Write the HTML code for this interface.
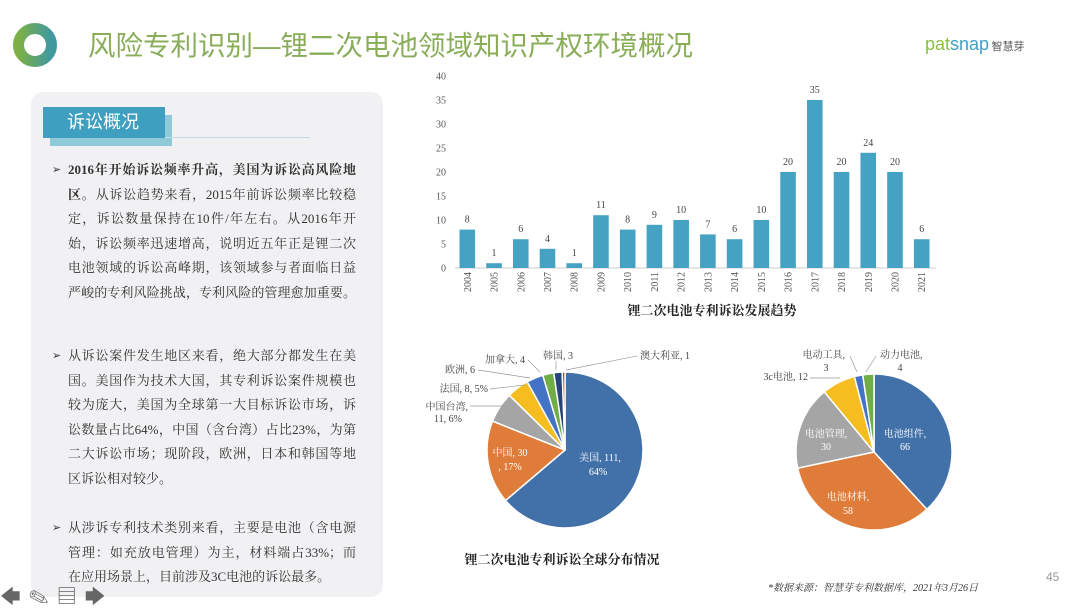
<!DOCTYPE html>
<html><head><meta charset="utf-8"><style>
body{margin:0;width:1080px;height:605px;background:#fff;position:relative;overflow:hidden;font-family:"Liberation Serif","Noto Serif CJK SC",serif;}
.abs{position:absolute;}
.panel{left:31px;top:92px;width:352px;height:505px;background:#f1f1f3;border-radius:12px;}
.p{position:absolute;left:52px;width:288px;font-size:13px;line-height:24.5px;color:#333;padding-left:16px;}
.p:before{content:"➢";position:absolute;left:0;top:0;font-size:11px;}
.p div{white-space:nowrap;text-align:justify;text-align-last:justify;}
.p div.l{text-align-last:left;}
</style></head><body>
<svg class="abs" style="left:0;top:0" width="1080" height="605">
<defs><linearGradient id="g" x1="0" y1="0" x2="1" y2="0"><stop offset="0" stop-color="#7db046"/><stop offset="1" stop-color="#3f98a0"/></linearGradient></defs>
<circle cx="35" cy="45" r="16.5" fill="none" stroke="url(#g)" stroke-width="11"/>
</svg>
<div class="abs" style="left:88px;top:23px;font-size:27.5px;color:#8aad5a;font-family:'Liberation Sans','Noto Sans CJK SC',sans-serif;">风险专利识别—锂二次电池领域知识产权环境概况</div>
<div class="abs" style="left:925px;top:34px;font-size:18px;font-family:'Liberation Sans',sans-serif;"><span style="color:#8cbf3f">pat</span><span style="color:#3ea0c8">snap</span><span style="font-size:11px;color:#555;font-family:'Noto Sans CJK SC',sans-serif"> 智慧芽</span></div>
<div class="abs panel"></div>
<div class="abs" style="left:50px;top:115px;width:122px;height:31px;background:#8fcadb"></div>
<div class="abs" style="left:43px;top:107px;width:122px;height:31px;background:#3e9fc0;color:#fff;font-size:18px;line-height:31px;text-indent:24px;font-family:'Liberation Sans','Noto Sans CJK SC',sans-serif;">诉讼概况</div>
<div class="abs" style="left:165px;top:137px;width:145px;height:1px;background:#c5d8e6"></div>
<div class="p" style="top:158px">
<div><b>2016年开始诉讼频率升高，美国为诉讼高风险地</b></div>
<div><b>区</b>。从诉讼趋势来看，2015年前诉讼频率比较稳</div>
<div>定，诉讼数量保持在10件/年左右。从2016年开</div>
<div>始，诉讼频率迅速增高，说明近五年正是锂二次</div>
<div>电池领域的诉讼高峰期，该领域参与者面临日益</div>
<div>严峻的专利风险挑战，专利风险的管理愈加重要。</div>
</div>
<div class="p" style="top:344px">
<div>从诉讼案件发生地区来看，绝大部分都发生在美</div>
<div>国。美国作为技术大国，其专利诉讼案件规模也</div>
<div>较为庞大，美国为全球第一大目标诉讼市场，诉</div>
<div>讼数量占比64%，中国（含台湾）占比23%，为第</div>
<div>二大诉讼市场；现阶段，欧洲，日本和韩国等地</div>
<div class="l">区诉讼相对较少。</div>
</div>
<div class="p" style="top:516px">
<div>从涉诉专利技术类别来看，主要是电池（含电源</div>
<div>管理：如充放电管理）为主，材料端占33%；而</div>
<div class="l">在应用场景上，目前涉及3C电池的诉讼最多。</div>
</div>
<div class="abs" style="left:0;top:580px;font-size:20px;color:#666;letter-spacing:8px">🡄✎▤🡆</div>
<svg id="c" class="abs" style="left:0;top:0" width="1080" height="605" font-family="Liberation Serif,Noto Serif CJK SC,serif"></svg>
<div class="abs" style="left:768px;top:579px;font-size:10px;font-style:italic;color:#333">*数据来源：智慧芽专利数据库，2021年3月26日</div>
<div class="abs" style="left:1046px;top:570px;font-size:12px;color:#999;font-family:'Liberation Sans',sans-serif">45</div>
<script>
var s='',d=[8,1,6,4,1,11,8,9,10,7,6,10,20,35,20,24,20,6];
for(var i=0;i<=8;i++){var y=268-i*24;s+='<text x="446" y="'+(y+3.5)+'" font-size="10" fill="#555" text-anchor="end">'+i*5+'</text>';}
s+='<line x1="455" y1="268" x2="936" y2="268" stroke="#ccc"/>';
d.forEach(function(v,i){var cx=467.3+i*26.73,h=v*4.8;
s+='<rect x="'+(cx-7.8)+'" y="'+(268-h)+'" width="15.6" height="'+h+'" fill="#46a2c2"/>';
s+='<text x="'+cx+'" y="'+(268-h-7)+'" font-size="10" fill="#444" text-anchor="middle">'+v+'</text>';
s+='<text transform="translate('+(cx+3.5)+',272) rotate(-90)" font-size="10" fill="#555" text-anchor="end">'+(2004+i)+'</text>';});
s+='<text x="712" y="315" font-size="13" font-weight="bold" fill="#222" text-anchor="middle">锂二次电池专利诉讼发展趋势</text>';
s+='<text x="562" y="564" font-size="13" font-weight="bold" fill="#222" text-anchor="middle">锂二次电池专利诉讼全球分布情况</text>';
function pie(cx,cy,r,vals,cols){var t=vals.reduce(function(a,b){return a+b}),a=0,o='';
vals.forEach(function(v,i){var a2=a+v/t*2*Math.PI;
var x1=cx+r*Math.sin(a),y1=cy-r*Math.cos(a),x2=cx+r*Math.sin(a2),y2=cy-r*Math.cos(a2);
o+='<path d="M'+cx+','+cy+'L'+x1+','+y1+'A'+r+','+r+' 0 '+(a2-a>Math.PI?1:0)+' 1 '+x2+','+y2+'Z" fill="'+cols[i]+'" stroke="#fff" stroke-width="1.5"/>';a=a2;});return o;}
s+=pie(565,450,78,[111,30,11,8,6,4,3,1],['#4270a8','#e07c3a','#a5a5a5','#f5bd20','#4472c4','#70ad47','#264478','#9e480e']);
s+=pie(874,452,78,[66,58,30,12,3,4],['#4270a8','#e07c3a','#a5a5a5','#f5bd20','#4472c4','#70ad47']);
function t(x,y,txt,c,a){s+='<text x="'+x+'" y="'+y+'" font-size="10" fill="'+(c||'#444')+'" text-anchor="'+(a||'start')+'">'+txt+'</text>';}
t(600,461,'美国, 111,','#fff','middle');t(598,475,'64%','#fff','middle');
t(510,456,'中国, 30','#fff','middle');t(510,470,', 17%','#fff','middle');
t(468,410,'中国台湾,','#444','end');t(462,422,'11, 6%','#444','end');
t(488,392,'法国, 8, 5%','#444','end');t(475,373,'欧洲, 6','#444','end');
t(485,363,'加拿大, 4');t(543,359,'韩国, 3');t(640,359,'澳大利亚, 1');
t(905,437,'电池组件,','#fff','middle');t(905,450,'66','#fff','middle');
t(848,500,'电池材料,','#fff','middle');t(848,514,'58','#fff','middle');
t(826,437,'电池管理,','#fff','middle');t(826,450,'30','#fff','middle');
t(808,380,'3c电池, 12','#444','end');t(845,358,'电动工具,','#444','end');t(826,371,'3','#444','middle');
t(880,358,'动力电池,');t(900,371,'4','#444','middle');
s+='<g stroke="#999" stroke-width="0.7" fill="none"><path d="M470 406L505 406"/><path d="M490 389L525 385"/><path d="M478 370L530 378"/><path d="M528 360L540 372"/><path d="M556 361L556 370"/><path d="M637 356L566 370"/><path d="M810 378L840 378"/><path d="M850 356L857 372"/><path d="M876 356L866 372"/></g>';
document.getElementById('c').innerHTML=s;
</script>
</body></html>
